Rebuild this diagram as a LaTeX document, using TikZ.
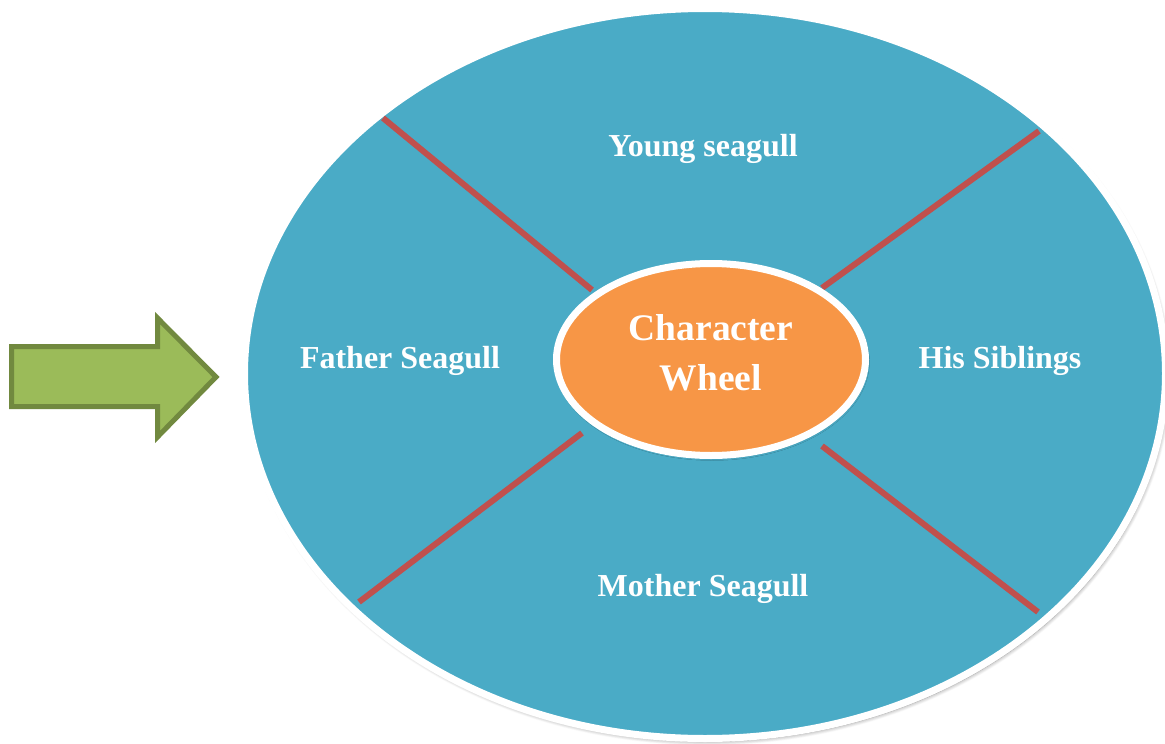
\documentclass[tikz,border=0pt]{standalone}
\usepackage{fontspec}
\setmainfont{Liberation Serif}
\usetikzlibrary{shapes.geometric,shadows.blur}
\definecolor{wheelblue}{HTML}{4AABC6}
\definecolor{huborange}{HTML}{F79646}
\definecolor{spokered}{HTML}{C0504D}
\definecolor{arrowgreen}{HTML}{9BBB59}
\definecolor{arrowedge}{HTML}{71893F}
\begin{document}
\begin{tikzpicture}[x=1pt,y=-1pt,
  wheel/.style={ellipse,draw=white,line width=7pt,fill=wheelblue,inner sep=0pt,
    blur shadow={shadow xshift=2pt,shadow yshift=-3pt,shadow blur steps=8,shadow blur radius=4pt,shadow opacity=45}},
  hub/.style={ellipse,draw=white,line width=7pt,fill=huborange,inner sep=0pt,
    blur shadow={shadow xshift=1pt,shadow yshift=-2pt,shadow blur steps=6,shadow blur radius=3pt,shadow opacity=30}},
  spoke/.style={draw=spokered,line width=6pt},
  label/.style={text=white,font=\bfseries\fontsize{32}{36}\selectfont,anchor=base,inner sep=0pt},
  hubtext/.style={text=white,font=\bfseries\fontsize{37.5}{50}\selectfont,align=center,inner sep=0pt},
  blockarrow/.style={fill=arrowgreen,draw=arrowedge,line width=5pt,line join=miter}]
\useasboundingbox (0,0) rectangle (1165,744);

% outer wheel
\node[wheel,minimum width=921pt,minimum height=730pt] (wheel) at (705,373.5) {};

% spokes between the wheel rim and the hub
\coordinate (tlout) at (383,118);
\coordinate (tlin) at (592,290);
\coordinate (trout) at (1039,131);
\coordinate (trin) at (822,288);
\coordinate (blout) at (359,602);
\coordinate (blin) at (582,433);
\coordinate (brout) at (1038,612);
\coordinate (brin) at (822,446);
\draw[spoke] (tlout) -- (tlin);
\draw[spoke] (trout) -- (trin);
\draw[spoke] (blout) -- (blin);
\draw[spoke] (brout) -- (brin);

% hub
\node[hub,minimum width=309pt,minimum height=192pt] (hub) at (711,359.5) {};
\node[hubtext] (hubtxt) at (711,353) {Character\\Wheel};

% segment labels
\node[label] (young) at (703,156) {Young seagull};
\node[label] (father) at (400,368) {Father Seagull};
\node[label] (siblings) at (1000,368) {His Siblings};
\node[label] (mother) at (703,596) {Mother Seagull};

% block arrow pointing at the wheel
\draw[blockarrow] (11.5,346.5) -- (157.5,346.5) -- (157.5,318) -- (216,377)
  -- (157.5,437) -- (157.5,406.5) -- (11.5,406.5) -- cycle;
\end{tikzpicture}
\end{document}
